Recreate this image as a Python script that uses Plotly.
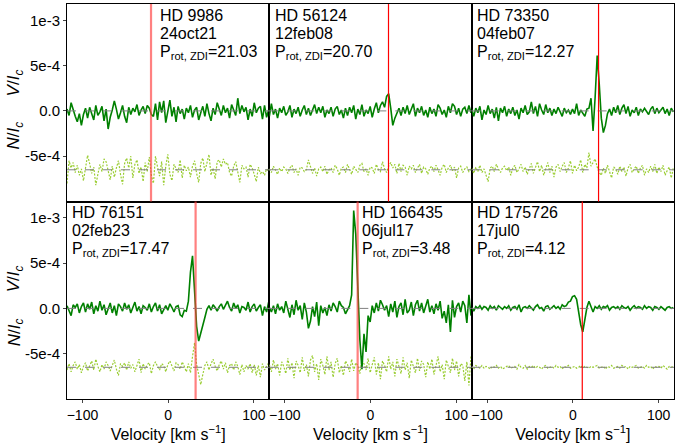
import plotly.graph_objects as go
from plotly.subplots import make_subplots

# ---------------- data ----------------
velocity = [
    -118.0, -115.6, -113.2, -110.8, -108.4, -106.0, -103.6, -101.2, -98.8, -96.4,
    -94.0, -91.6, -89.2, -86.8, -84.4, -82.0, -79.6, -77.2, -74.8, -72.4,
    -70.0, -67.6, -65.2, -62.8, -60.4, -58.0, -55.6, -53.2, -50.8, -48.4,
    -46.0, -43.6, -41.2, -38.8, -36.4, -34.0, -31.6, -29.2, -26.8, -24.4,
    -22.0, -19.6, -17.2, -14.8, -12.4, -10.0, -7.6, -5.2, -2.8, -0.4,
    2.0, 4.4, 6.8, 9.2, 11.6, 14.0, 16.4, 18.8, 21.2, 23.6,
    26.0, 28.4, 30.8, 33.2, 35.6, 38.0, 40.4, 42.8, 45.2, 47.6,
    50.0, 52.4, 54.8, 57.2, 59.6, 62.0, 64.4, 66.8, 69.2, 71.6,
    74.0, 76.4, 78.8, 81.2, 83.6, 86.0, 88.4, 90.8, 93.2, 95.6,
    98.0, 100.4, 102.8, 105.2, 107.6, 110.0, 112.4, 114.8, 117.2,
]

stars = ["HD 9986", "HD 56124", "HD 73350", "HD 76151", "HD 166435", "HD 175726"]
dates = ["24oct21", "12feb08", "04feb07", "02feb23", "06jul17", "17jul0"]
prot_zdi = ["21.03", "20.70", "12.27", "17.47", "3.48", "4.12"]
ref_velocity = [-20, 21, 30, 32, -15, 11]
label_velocity = [-12, -114, -114, -114, -12, -114]
null_offset = -6.5e-4
unit = 1e-4

# Stokes V profiles (in units of 1e-4)
v_hd9986 = [
    0.2, -0.5, 0.9, 0.1, -0.6, -1.2, -0.3, -1.6, -0.4, 0.3,
    -0.8, 0.4, -0.2, -1.0, 0.6, -0.5, -0.1, 0.5, -1.1, 0.2,
    -2.0, -0.7, 0.1, 1.1, 0.2, -0.9, -0.2, 0.6, -0.6, -1.3,
    0.4, -0.4, 0.3, -0.1, 0.7, -0.5, 0.1, 0.5, -0.3, 0.6,
    0.3, -0.4, -0.6, 0.8, -1.0, 1.0, -0.2, 1.1, -1.3, 0.2,
    1.2, -0.6, 0.4, -1.2, 0.5, -0.3, 0.2, -0.9, 0.3, -0.2,
    0.6, -0.7, 0.1, 0.4, -1.0, -0.2, 0.5, -0.6, 0.8, -0.3,
    -1.1, 0.3, -0.4, 0.9, 0.1, -0.5, 0.6, -0.2, 0.3, -0.8,
    0.7, 0.2, -0.5, 1.4, -0.3, 0.6, -0.1, 0.4, -1.0, 0.2,
    -0.6, 0.9, -0.2, 0.3, 0.5, -0.9, 0.6, -0.7, 0.1,
]
v_hd56124 = [
    -0.6, 0.8, -0.4, 0.2, -0.8, 0.3, -0.2, 0.5, -0.5, -0.1,
    0.6, -0.7, 0.2, -0.3, 0.4, -0.6, 0.1, 0.6, -0.4, 0.3,
    -0.5, 0.2, 0.7, -0.3, 0.4, -0.2, 0.5, -0.7, 0.1, -0.3,
    0.4, -0.6, 0.2, 0.5, -0.4, 0.1, -0.8, 0.3, -0.5, 0.4,
    -0.2, 0.6, -0.9, 0.2, -0.4, 0.7, -0.6, 0.1, -0.3, 0.5,
    -0.7, 0.2, 0.9, -0.2, 0.6, 1.0, 0.4, 1.6, 1.9, 0.3,
    -1.6, -0.8, -0.2, 0.3, -0.5, 0.4, -0.3, 0.6, -0.4, 0.2,
    0.8, -0.6, 0.3, -0.2, 0.5, -0.5, 0.1, -0.7, 0.4, -0.3,
    0.2, -0.6, 0.7, 0.3, -0.4, 0.1, -0.7, 0.5, -0.2, 0.8,
    0.5, -0.4, 0.3, -0.6, 0.2, 0.4, -0.3, 0.6, -0.2,
]
v_hd73350 = [
    0.2, -0.6, 0.3, -0.2, 0.5, -1.0, 0.1, -0.4, 0.6, -0.3,
    0.2, -0.8, 0.4, -1.1, 0.3, -0.2, 0.5, -0.6, 0.2, -0.3,
    0.4, -0.5, 0.1, -0.9, 0.3, -0.2, 0.6, -0.4, -0.1, 1.0,
    -0.3, 0.5, -0.6, 0.8, 0.1, -0.4, 0.7, -0.2, 0.3, -0.5,
    0.2, -0.3, 0.4, -0.1, -0.6, 0.3, -0.2, 0.1, -0.4, 0.2,
    -0.3, 0.8, -0.5, 0.1, -0.2, -0.6, 0.2, 0.3, 1.4, -2.2,
    1.5, 6.1, 3.0, -0.8, -2.4, -1.6, -0.3, 0.2, -0.5, 0.4,
    -0.2, 0.6, -0.4, 0.3, 0.7, -0.3, 0.5, -0.6, 0.1, -0.2,
    0.4, -0.5, 0.2, -0.1, 0.3, 0.0, -0.4, 0.2, 0.5, -0.3,
    0.3, -0.2, 0.1, 0.4, -0.3, 0.2, -0.5, 0.3, -0.1,
]
v_hd76151 = [
    0.3, -0.2, -0.8, 0.4, 0.1, 0.5, -0.5, 0.2, 0.6, -0.4,
    0.5, -0.1, 0.7, -0.6, 0.3, -0.3, 0.8, -0.2, 0.4, -0.7,
    0.1, 0.6, -0.5, 0.3, -0.8, 0.5, 0.2, -0.3, 0.6, -0.1,
    0.4, -0.5, 0.1, 0.7, -0.3, 0.2, -0.6, 0.3, 0.1, -0.2,
    0.5, -0.4, 0.2, 0.6, -0.3, 0.4, -0.6, -0.1, 0.3, -0.2,
    0.5, 0.1, -0.4, 0.2, 0.3, -0.7, -0.9, -0.2, -0.3, 0.8,
    4.0, 5.8, 2.0, -2.0, -3.6, -2.8, -1.8, -1.0, -0.1, 0.3,
    -0.2, 0.4, 0.1, -0.3, 0.2, 0.5, -0.1, 0.3, 0.8, 0.1,
    -0.3, 0.6, 0.0, 0.4, -0.5, 0.2, 0.1, -0.2, 0.7, -0.4,
    0.2, 0.5, -0.3, 0.1, 0.4, -0.8, 0.2, -0.4, 0.7,
]
v_hd166435 = [
    0.1, -0.4, 0.3, -0.6, 0.5, -0.2, 0.2, -0.5, 0.8, -0.3,
    -1.0, 0.4, -0.7, 0.9, -0.2, 0.3, -1.2, 0.6, -0.4, -2.2,
    -1.4, 0.2, -0.9, 0.7, -1.9, 0.3, -0.5, 0.1, -0.8, 0.4,
    -0.3, 0.6, 0.2, -0.4, 0.8, 0.3, 0.1, -0.6, -0.2, 0.3,
    1.5, 10.8, 8.2, 3.0, -3.5, -6.7, -2.8, -4.8, -0.8, -1.5,
    0.3, -0.5, 0.6, -0.3, 0.9, 0.4, -0.2, 0.3, -0.9, 0.5,
    -0.4, 0.8, -1.0, 0.2, 0.6, -0.7, 1.0, -0.5, -0.2, 0.7,
    -0.8, 0.4, 0.9, -0.3, 0.6, -0.5, 0.2, 1.0, -0.4, 0.3,
    -0.6, 0.5, -0.2, 0.8, -1.1, -0.3, -1.6, 0.4, -2.6, 0.9,
    -1.0, 0.2, 0.6, -0.4, 0.8, 0.3, -1.6, 1.5, -0.8,
]
v_hd175726 = [
    0.1, -0.3, 0.2, 0.0, 0.3, -0.1, 0.2, 0.1, -0.2, 0.3,
    0.0, 0.2, -0.2, 0.3, 0.1, -0.1, 0.2, 0.0, 0.3, -0.2,
    0.1, 0.2, -0.1, 0.4, -0.4, 0.1, 0.2, 0.0, 0.3, 0.1,
    -0.2, 0.2, 0.4, 0.0, 0.1, -0.3, 0.2, 0.3, -0.1, 0.1,
    0.3, 0.0, 0.2, -0.1, 0.4, 0.2, 0.3, 0.7, 0.8, 1.3,
    1.4, 1.0, -0.3, -1.8, -2.6, -1.2, 0.1, 0.8, 0.2, -0.4,
    0.2, 0.0, 0.3, -0.1, 0.2, 0.1, 0.3, -0.2, 0.1, 0.2,
    0.0, 0.2, -0.1, 0.3, 0.1, 0.0, 0.2, -0.2, 0.1, 0.3,
    0.0, 0.2, 0.1, -0.1, 0.3, 0.0, 0.2, 0.1, -0.2, 0.2,
    0.1, -0.1, 0.2, 0.0, -0.2, 0.1, 0.2, 0.0, 0.1,
]

# Null profiles (in units of 1e-4, before offset)
n_hd9986 = [
    -1.5, 1.0, 0.2, 0.8, -0.3, 0.5, -0.6, 0.1, -1.2, 0.4,
    1.6, 0.7, -0.4, 0.3, -1.7, -0.5, 0.6, -0.2, 1.2, 0.9,
    -0.3, -1.1, 0.4, -0.8, 0.2, 1.0, -0.5, -1.6, 0.7, 1.3,
    0.2, 1.5, -0.9, 0.6, 1.1, -0.4, 0.3, -1.3, 0.8, -0.2,
    1.4, -0.6, -1.5, 1.5, 0.3, -0.7, 0.9, -1.7, 0.4, 1.7,
    -0.5, -1.2, 0.6, 0.2, -0.3, 1.1, -0.9, 0.5, -0.1, 0.3,
    -0.8, 0.4, 1.0, -0.4, -1.4, 0.7, 1.3, -0.2, 0.6, 1.7,
    -0.6, 0.2, -1.0, 0.9, 1.1, 0.3, 1.2, 0.6, 0.8, -0.3,
    -0.7, 0.4, 0.9, -0.2, -1.4, 0.5, 0.1, 0.3, -0.8, 0.6,
    0.2, -0.5, -1.3, 0.3, -0.4, -0.2, -0.6, 0.1, -0.2,
]
n_hd56124 = [
    0.1, -0.3, 0.4, 0.0, -0.5, 0.2, -0.2, 0.3, 0.1, -0.4,
    0.2, 0.5, -0.3, 0.1, -0.6, 0.3, 0.2, -0.2, 0.0, 1.1,
    0.3, -0.4, 0.2, -0.7, 0.1, 0.3, -0.2, 0.4, -0.5, 0.0,
    0.2, -0.3, 0.5, 0.1, -0.6, 0.2, 0.3, -0.3, 0.6, 0.1,
    -0.5, 0.4, 0.0, -0.3, 0.5, 0.7, -0.2, 0.1, -0.6, 0.3,
    0.2, -0.4, 0.6, 0.0, -0.2, 0.9, 0.1, -0.3, 0.4, 0.8,
    0.2, 0.6, -0.4, 0.7, -0.2, 0.5, 0.3, -0.6, 0.4, 0.1,
    0.5, -0.3, 0.2, 0.6, -0.4, 0.3, 0.1, -0.5, 0.2, 0.4,
    -0.2, 0.5, 0.0, -0.6, 0.3, 0.6, -0.3, 0.2, 0.5, -0.1,
    0.3, -0.9, 0.2, 0.4, -0.3, 0.1, 0.3, -0.2, 0.1,
]
n_hd73350 = [
    0.2, -0.4, 0.3, -0.2, 0.5, -0.3, 0.1, -0.5, -1.3, 0.2,
    0.4, -0.2, 0.6, 0.1, -0.3, 0.2, 0.4, -0.1, 0.3, -0.6,
    0.2, 0.5, -0.3, 0.1, 0.6, -0.2, 0.3, -0.5, 0.2, 0.7,
    -0.4, 0.3, 0.9, -0.2, 0.5, -0.6, 0.1, 0.8, -0.3, 0.4,
    -0.8, 0.3, 0.6, -0.2, 0.4, 0.8, -0.3, 0.2, 1.0, -0.4,
    0.5, -0.1, 0.3, 1.1, -0.3, 0.6, 0.2, 1.9, 0.4, 0.8,
    1.2, 0.3, -0.3, -0.6, 0.2, -0.4, 0.5, -0.2, -0.9, 0.3,
    0.1, -0.5, 0.4, -0.2, 0.3, -0.7, 0.2, 0.6, -0.3, 0.1,
    0.4, -0.4, 0.2, 0.5, -0.6, 0.1, -0.3, 0.4, -0.2, 0.6,
    -0.4, 0.3, -0.2, 0.5, -0.6, -0.1, 0.3, -0.9, 0.2,
]
n_hd76151 = [
    -0.3, 0.4, -0.5, 0.2, 0.6, -0.2, 0.3, -0.6, 0.1, 0.5,
    -0.4, 0.2, 0.7, -0.3, 0.9, 0.1, -0.5, 0.3, -0.2, 0.6,
    0.2, -0.4, 0.3, 0.8, -0.2, -0.9, 0.4, 0.1, 0.5, -0.3,
    0.6, -0.1, 0.3, -0.5, 0.2, 0.9, -0.6, 0.4, -0.2, 0.3,
    0.5, -0.7, 0.2, 0.6, 0.1, -0.3, 0.4, 0.2, -0.5, 0.3,
    0.7, 0.2, -0.4, 0.5, 0.3, -0.2, 0.6, 0.1, -0.5, 0.4,
    -0.6, 1.2, 2.7, 0.3, -1.0, -1.9, -0.8, 0.2, 0.6, -0.3,
    0.4, 0.9, 0.1, -0.4, 0.3, 0.7, -0.2, 0.5, -0.6, 0.2,
    0.4, -0.3, 0.6, 0.1, -0.8, 0.3, -0.5, 0.2, -0.2, 0.4,
    -0.6, 0.3, -0.9, 0.2, -1.1, 0.4, -0.3, 0.1, 0.5,
]
n_hd166435 = [
    0.3, -0.5, 0.8, -0.2, 0.4, -0.9, 0.6, 0.1, -0.7, 1.0,
    -0.3, 0.5, -1.2, 0.7, 0.2, -0.6, 1.1, -0.4, 0.3, -1.0,
    0.8, 1.3, -0.5, 0.4, -1.4, 0.9, 0.2, -0.8, 1.2, -0.3,
    0.6, -1.1, 0.4, 1.0, -0.6, 0.2, -0.9, 0.7, 0.3, -0.5,
    0.9, -0.4, 0.5, 0.2, -0.7, 0.8, 0.4, -0.3, 1.0, -0.6,
    0.3, 1.1, -0.8, 0.5, -1.3, 0.7, 0.2, -0.5, 1.2, -0.2,
    0.6, -1.0, 0.9, 0.1, -0.7, 1.1, -0.3, 0.5, -1.2, 0.8,
    0.2, -0.6, 1.0, -0.4, 0.7, 0.3, -1.1, 0.6, -0.2, 0.9,
    -0.8, 0.4, 1.2, -0.5, 0.3, -1.3, 0.8, 0.1, -0.6, 1.0,
    -0.3, 0.7, -1.0, 0.4, 0.2, -1.5, 0.6, -2.0, 1.2,
]
n_hd175726 = [
    0.1, -0.2, 0.2, 0.0, -0.1, 0.2, -0.1, 0.1, 0.0, -0.2,
    0.1, 0.0, 0.2, -0.1, 0.1, -0.2, 0.0, 0.1, 0.2, -0.1,
    0.0, 0.1, -0.2, 0.3, 0.0, -0.1, 0.2, -0.2, 0.1, 0.0,
    0.2, -0.1, 0.1, 0.0, -0.2, 0.1, 0.2, -0.1, 0.0, 0.1,
    -0.1, 0.2, 0.0, 0.1, -0.2, 0.1, 0.0, 0.2, -0.1, 0.0,
    0.1, -0.1, 0.0, 0.2, -0.1, 0.1, 0.0, -0.1, 0.1, 0.0,
    0.1, 0.2, -0.1, 0.0, 0.1, -0.2, 0.1, 0.0, 0.2, -0.1,
    0.0, 0.1, -0.1, 0.2, 0.0, 0.1, -0.2, 0.1, 0.0, 0.1,
    0.2, -0.1, 0.0, 0.1, -0.1, 0.2, 0.0, 0.1, -0.2, 0.1,
    0.0, 0.1, -0.1, 0.2, 0.0, -0.2, 0.1, 0.0, 0.1,
]

stokes_v = [v_hd9986, v_hd56124, v_hd73350, v_hd76151, v_hd166435, v_hd175726]
null_n = [n_hd9986, n_hd56124, n_hd73350, n_hd76151, n_hd166435, n_hd175726]

# ---------------- figure ----------------
FONT = "Liberation Sans, Arial, sans-serif"
ref_colors = ["rgba(255,60,60,0.65)", "red", "red", "rgba(255,60,60,0.65)", "rgba(255,60,60,0.65)", "red"]
ref_widths = [2.2, 1.2, 1.2, 2.2, 2.2, 1.2]

fig = make_subplots(rows=2, cols=3, shared_xaxes=True, shared_yaxes=True,
                    horizontal_spacing=0, vertical_spacing=0)

for k in range(6):
    row, col = k // 3 + 1, k % 3 + 1
    n = min(len(velocity), len(stokes_v[k]), len(null_n[k]))
    x = velocity[:n]
    yv = [val * unit for val in stokes_v[k][:n]]
    yn = [val * unit + null_offset for val in null_n[k][:n]]
    fig.add_trace(go.Scatter(x=x, y=yn, mode="lines",
                             line=dict(color="#9acd32", width=1.2, dash="2px,1.5px"),
                             showlegend=False, hoverinfo="skip"), row=row, col=col)
    fig.add_trace(go.Scatter(x=x, y=yv, mode="lines",
                             line=dict(color="green", width=1.6),
                             showlegend=False, hoverinfo="skip"), row=row, col=col)
    fig.add_hline(y=0, line=dict(color="grey", width=1, dash="dash"), row=row, col=col)
    fig.add_hline(y=null_offset, line=dict(color="grey", width=1, dash="dash"), row=row, col=col)
    fig.add_vline(x=ref_velocity[k], line=dict(color=ref_colors[k], width=ref_widths[k]),
                  row=row, col=col)
    lines = [stars[k], dates[k], f"P<sub>rot, ZDI</sub>={prot_zdi[k]}"]
    shifts = [-11, -29, -48]
    for txt, ys in zip(lines, shifts):
        fig.add_annotation(
            text=txt, x=label_velocity[k], y=1, xref="x", yref="y domain",
            xanchor="left", yanchor="middle", yshift=ys, align="left", showarrow=False,
            font=dict(family=FONT, size=16, color="black"), row=row, col=col)

fig.update_xaxes(range=[-118, 118], tickvals=[-100, 0, 100],
                 showline=True, mirror=True, linecolor="black", linewidth=1,
                 showgrid=False, zeroline=False, ticks="outside", ticklen=3,
                 tickfont=dict(family=FONT, size=14, color="black"))
fig.update_yaxes(range=[-1.0e-3, 1.18e-3],
                 tickvals=[-5e-4, 0, 5e-4, 1e-3], ticktext=["-5e-4", "0.0", "5e-4", "1e-3"],
                 showline=True, mirror=True, linecolor="black", linewidth=1,
                 showgrid=False, zeroline=False, ticks="outside", ticklen=3,
                 tickfont=dict(family=FONT, size=15, color="black"))
for c in range(1, 4):
    fig.update_xaxes(title_text="Velocity [km s<sup>\u22121</sup>]",
                     title_font=dict(family=FONT, size=16, color="black"),
                     title_standoff=2, row=2, col=c)
    fig.update_xaxes(ticks="", row=1, col=c)
for r in (1, 2):
    for c in (2, 3):
        fig.update_yaxes(ticks="", row=r, col=c)

# y-axis labels
for ypos, txt in [(0.800, "<i>V</i>/<i>I<sub>c</sub></i>"), (0.668, "<i>N</i>/<i>I<sub>c</sub></i>"),
                  (0.304, "<i>V</i>/<i>I<sub>c</sub></i>"), (0.170, "<i>N</i>/<i>I<sub>c</sub></i>")]:
    fig.add_annotation(text=txt, x=-0.085, y=ypos, xref="paper", yref="paper",
                       textangle=-90, showarrow=False, xanchor="center", yanchor="middle",
                       font=dict(family=FONT, size=17, color="black"))

fig.update_layout(width=675, height=445, margin=dict(l=67, r=1, t=4, b=46),
                  plot_bgcolor="white", paper_bgcolor="white",
                  font=dict(family=FONT, color="black"))

fig.write_html("out.html", config={"displayModeBar": False},
               post_script="document.body.style.margin='0px';document.body.style.overflow='hidden';")
